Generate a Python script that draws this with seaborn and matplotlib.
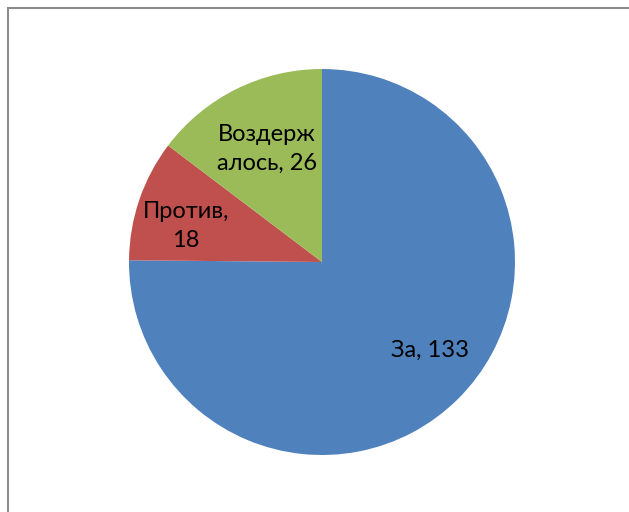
import numpy as np
import matplotlib
matplotlib.use("Agg")
import matplotlib.pyplot as plt
from matplotlib.patches import Rectangle
import seaborn as sns

categories = ["За", "Против", "Воздержалось"]
label_texts = ["За, 133", "Против,\n18", "Воздерж\nалось, 26"]
values = [133, 18, 26]
colors = ["#4F81BD", "#C0504D", "#9BBB59"]
label_dist = [0.722, 0.729, 0.651]
label_angle_offset = [6.1, 4.0, -0.5]

sns.set_theme(style="white")
plt.rcParams['font.family'] = ['Lato', 'DejaVu Sans']

W, H = 629, 512
fig = plt.figure(figsize=(W / 100, H / 100), dpi=100)
ax = fig.add_axes([0, 0, 1, 1])

cx, cy, r = 322, H - 262, 193
wedges, _ = ax.pie(values, colors=colors, startangle=90, counterclock=False,
                   center=(cx, cy), radius=r, frame=True,
                   wedgeprops=dict(linewidth=0))
ax.set_xlim(0, W)
ax.set_ylim(0, H)
ax.set_aspect("equal")
ax.axis("off")

for w, txt, d, off in zip(wedges, label_texts, label_dist, label_angle_offset):
    ang = np.deg2rad((w.theta1 + w.theta2) / 2 + off)
    x = cx + d * r * np.cos(ang)
    y = cy + d * r * np.sin(ang)
    ax.text(x, y, txt, ha="center", va="center", fontsize=17,
            color="black", linespacing=1.45, multialignment="center")

fig.patches.append(Rectangle((8 / W, -0.1), 1.2, 1 - 8 / H + 0.1,
                             transform=fig.transFigure, fill=False,
                             edgecolor="#8c8c8c", linewidth=1.5))
fig.savefig("out.png", dpi=100, facecolor="white")
